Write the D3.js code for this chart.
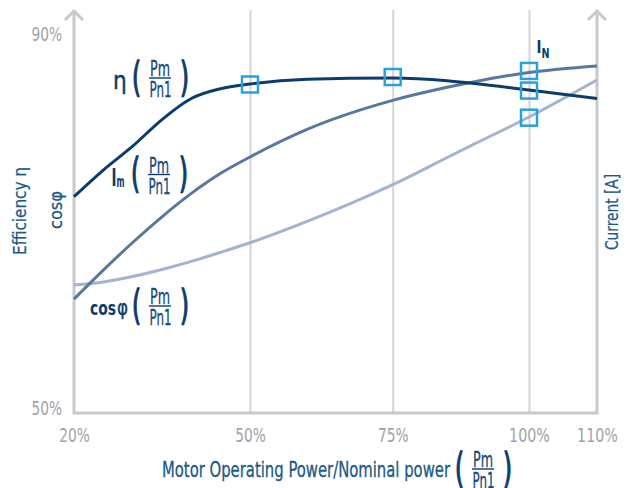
<!DOCTYPE html>
<html>
<head>
<meta charset="utf-8">
<script src="https://cdn.jsdelivr.net/npm/d3@7"></script>
<style>
  body { margin: 0; background: #fff; }
  svg text { font-family: "Liberation Sans Narrow", "DejaVu Sans Condensed", "Open Sans", sans-serif; }
</style>
</head>
<body>
<div id="chart"></div>
<script>
// x axis: motor load in % of nominal power
var xTicks = [20, 50, 75, 100, 110];
var gridTicks = [50, 75, 100];
var yTicks = [50, 90];

// sample points along the load axis
var loadPoints = [20, 25, 30, 35, 40, 45, 50, 60, 75, 85, 90, 100, 110];
var etaVals = [72.6, 75.45, 78.0, 80.85, 83.1, 84.15, 84.65, 85.15, 85.3, 85.0, 84.7, 84.0, 83.1];
var imVals  = [61.65, 64.75, 67.7, 70.45, 72.95, 75.1, 76.85, 79.8, 82.9, 84.3, 84.9, 85.88, 86.58];
var cosVals = [63.15, 63.48, 64.07, 64.82, 65.68, 66.65, 67.67, 69.95, 73.88, 76.79, 78.24, 81.12, 85.08];

// highlighted operating points
var markLoads = [50, 75, 100, 100, 100];
var markVals  = [84.6, 85.4, 86.05, 83.95, 81.05];

var W = 638, H = 488;
var axisCol = "#c8c9cd", gridCol = "#d4d5d9", tickCol = "#9fa3a9";
var navy = "#0b3c6b", titleCol = "#1b5a84";

var svg = d3.select("#chart").append("svg")
  .attr("width", W)
  .attr("height", H);

var x = d3.scaleLinear().domain(xTicks).range([74, 250, 392.7, 529, 597]);
var y = d3.scaleLinear().domain([50, 90]).range([408, 34]);
var baseY = 413, topY = 10;

// squeeze text to the narrow look of the original font
function narrow(sel, len) {
  return sel.attr("textLength", len).attr("lengthAdjust", "spacingAndGlyphs");
}
// a touch heavier strokes for the dark labels
function heavy(sel, w) {
  return sel.attr("stroke", sel.attr("fill")).attr("stroke-width", w || 0.5);
}

// grid lines
svg.append("g")
  .attr("transform", "translate(0," + baseY + ")")
  .call(d3.axisBottom(x).tickValues(gridTicks).tickSize(-(baseY - topY)).tickFormat(""))
  .call(function (g) { g.select(".domain").remove(); })
  .selectAll("line")
  .attr("stroke", gridCol)
  .attr("stroke-width", 2);

// axis frame
var frame = svg.append("g")
  .attr("fill", "none")
  .attr("stroke", axisCol)
  .attr("stroke-width", 3);
frame.append("path")
  .attr("d", "M" + x(20) + "," + topY + "V" + baseY + "H" + x(110) + "V" + topY);
[x(20), x(110)].forEach(function (ax) {
  frame.append("path")
    .attr("d", "M" + (ax - 9) + "," + (topY + 10) + "L" + ax + "," + (topY + 1) + "L" + (ax + 9) + "," + (topY + 10));
});

// tick labels
svg.append("g")
  .attr("transform", "translate(0," + baseY + ")")
  .call(d3.axisBottom(x).tickValues(xTicks).tickSize(0).tickPadding(15)
    .tickFormat(function (d) { return d + "%"; }))
  .call(function (g) { g.select(".domain").remove(); })
  .selectAll("text")
  .attr("fill", tickCol)
  .style("font-size", "20px")
  .attr("textLength", function (d) { return (d + "%").length * 10.2; })
  .attr("lengthAdjust", "spacingAndGlyphs");

svg.append("g")
  .attr("transform", "translate(" + x(20) + ",0)")
  .call(d3.axisLeft(y).tickValues(yTicks).tickSize(0).tickPadding(12)
    .tickFormat(function (d) { return d + "%"; }))
  .call(function (g) { g.select(".domain").remove(); })
  .selectAll("text")
  .attr("fill", tickCol)
  .style("font-size", "20px")
  .attr("textLength", function (d) { return (d + "%").length * 10.2; })
  .attr("lengthAdjust", "spacingAndGlyphs");

// curves
var series = [
  { vals: cosVals, color: "#a2b4cf" },
  { vals: imVals, color: "#58789f" },
  { vals: etaVals, color: navy }
];
var line = d3.line()
  .x(function (d) { return x(d[0]); })
  .y(function (d) { return y(d[1]); })
  .curve(d3.curveMonotoneX);

series.forEach(function (s) {
  svg.append("path")
    .datum(loadPoints.map(function (p, i) { return [p, s.vals[i]]; }))
    .attr("fill", "none")
    .attr("stroke", s.color)
    .attr("stroke-width", 3)
    .attr("d", line);
});

// operating point squares
svg.selectAll("rect.mark")
  .data(markLoads.map(function (p, i) { return [p, markVals[i]]; }))
  .enter().append("rect")
  .attr("class", "mark")
  .attr("x", function (d) { return x(d[0]) - 8; })
  .attr("y", function (d) { return y(d[1]) - 8; })
  .attr("width", 16)
  .attr("height", 16)
  .attr("fill", "none")
  .attr("stroke", "#2ba0dc")
  .attr("stroke-width", 2.5);

// ( Pm / Pn1 ) fraction
function fraction(cx, barY) {
  var g = svg.append("g").attr("fill", navy);
  [["(", cx - 23.5], [")", cx + 24.5]].forEach(function (p) {
    heavy(narrow(g.append("text").attr("x", p[1]).attr("y", barY + 12.5)
      .attr("fill", navy).attr("text-anchor", "middle")
      .style("font-size", "40px").text(p[0]), 9), 1.4);
  });
  heavy(narrow(g.append("text").attr("x", cx).attr("y", barY - 2).attr("fill", "#174a78")
    .attr("text-anchor", "middle").style("font-size", "22px").text("Pm"), 20), 0.3);
  heavy(narrow(g.append("text").attr("x", cx + 0.5).attr("y", barY + 19).attr("fill", "#174a78")
    .attr("text-anchor", "middle").style("font-size", "22px").text("Pn1"), 22), 0.3);
  g.append("line")
    .attr("x1", cx - 11).attr("x2", cx + 11)
    .attr("y1", barY).attr("y2", barY)
    .attr("stroke", navy).attr("stroke-width", 1.4);
  return g;
}

// η label
fraction(160, 78);
heavy(svg.append("text").attr("x", 113).attr("y", 89)
  .attr("fill", navy).style("font-size", "24px").text("η"), 0.4);

// Im label
fraction(159, 174.5);
narrow(svg.append("text").attr("x", 111.5).attr("y", 185.5)
  .attr("fill", navy).style("font-weight", "bold").style("font-size", "25px").text("I"), 5);
narrow(svg.append("text").attr("x", 116.5).attr("y", 186.5)
  .attr("fill", navy).style("font-weight", "bold").style("font-size", "16px").text("m"), 8);

// cosφ label
fraction(160, 306);
narrow(svg.append("text").attr("x", 90).attr("y", 315)
  .attr("fill", navy).style("font-weight", "bold").style("font-size", "20px").text("cos"), 26);
heavy(narrow(svg.append("text").attr("x", 117).attr("y", 315)
  .attr("fill", navy).style("font-size", "22px").text("φ"), 11), 0.4);

// I_N label
narrow(svg.append("text").attr("x", 536.5).attr("y", 53)
  .attr("fill", navy).style("font-weight", "bold").style("font-size", "18px").text("I"), 5);
narrow(svg.append("text").attr("x", 541.5).attr("y", 58)
  .attr("fill", navy).style("font-weight", "bold").style("font-size", "14px").text("N"), 8);

// axis titles
heavy(narrow(svg.append("text")
  .attr("transform", "translate(26,211) rotate(-90)")
  .attr("text-anchor", "middle").attr("fill", titleCol)
  .style("font-size", "18px").text("Efficiency η"), 88), 0.25);
heavy(narrow(svg.append("text")
  .attr("transform", "translate(62,210) rotate(-90)")
  .attr("text-anchor", "middle").attr("fill", titleCol)
  .style("font-size", "18px").text("cosφ"), 38), 0.25);
heavy(narrow(svg.append("text")
  .attr("transform", "translate(618,212) rotate(-90)")
  .attr("text-anchor", "middle").attr("fill", titleCol)
  .style("font-size", "18px").text("Current [A]"), 76), 0.25);

heavy(narrow(svg.append("text")
  .attr("x", 162).attr("y", 477)
  .attr("fill", titleCol).style("font-size", "22px")
  .text("Motor Operating Power/Nominal power"), 288), 0.3);
fraction(483, 469);
</script>
</body>
</html>
